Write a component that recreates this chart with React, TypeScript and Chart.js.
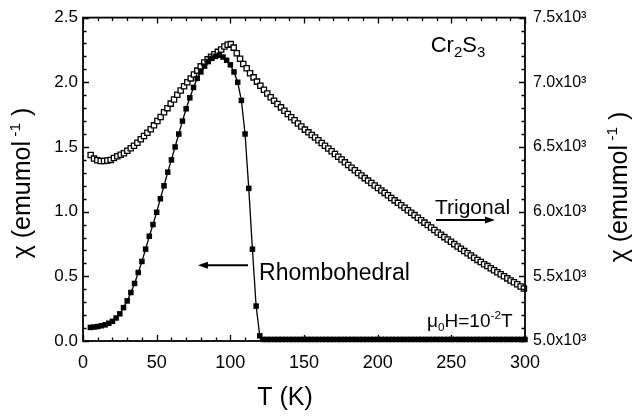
import React, { useEffect, useRef } from "react";
import { Chart, registerables } from "chart.js";
Chart.register(...registerables);

const FONT = "'Liberation Sans', Arial, Helvetica, sans-serif";

// Rhombohedral (filled squares, left axis, emu/mol)
const tRhombo = [
  5, 7.5, 10, 12.5, 15, 17.5, 20, 22.5, 25, 27.5, 30, 32.5, 35, 37.5, 40, 42.5, 45, 47.5, 50, 52.5,
  55, 57.5, 60, 62.5, 65, 67.5, 70, 72.5, 75, 77.5, 80, 82.5, 85, 87.5, 90, 92.5, 95, 97.5, 100, 102.5,
  105, 107.5, 110, 112.5, 115, 117.5, 120,
  122.5, 125, 127.5, 130, 132.5, 135, 137.5, 140, 142.5, 145, 147.5, 150,
  152.5, 155, 157.5, 160, 162.5, 165, 167.5, 170, 172.5, 175, 177.5, 180,
  182.5, 185, 187.5, 190, 192.5, 195, 197.5, 200, 202.5, 205, 207.5, 210,
  212.5, 215, 217.5, 220, 222.5, 225, 227.5, 230, 232.5, 235, 237.5, 240,
  242.5, 245, 247.5, 250, 252.5, 255, 257.5, 260, 262.5, 265, 267.5, 270,
  272.5, 275, 277.5, 280, 282.5, 285, 287.5, 290, 292.5, 295, 297.5, 300,
];
const chiRhombo = [
  0.105, 0.108, 0.112, 0.118, 0.125, 0.137, 0.152, 0.178, 0.21, 0.258, 0.31, 0.375, 0.445, 0.53, 0.615, 0.71, 0.81, 0.9, 0.995, 1.1,
  1.2, 1.305, 1.4, 1.5, 1.6, 1.7, 1.795, 1.88, 1.96, 2.03, 2.08, 2.125, 2.16, 2.185, 2.2, 2.21, 2.195, 2.17, 2.135, 2.08,
  2.0, 1.86, 1.6, 1.18, 0.71, 0.27, 0.04,
  0.012, 0.012, 0.012, 0.012, 0.012, 0.012, 0.012, 0.012, 0.012, 0.012, 0.012, 0.012,
  0.012, 0.012, 0.012, 0.012, 0.012, 0.012, 0.012, 0.012, 0.012, 0.012, 0.012, 0.012,
  0.012, 0.012, 0.012, 0.012, 0.012, 0.012, 0.012, 0.012, 0.012, 0.012, 0.012, 0.012,
  0.012, 0.012, 0.012, 0.012, 0.012, 0.012, 0.012, 0.012, 0.012, 0.012, 0.012, 0.012,
  0.012, 0.012, 0.012, 0.012, 0.012, 0.012, 0.012, 0.012, 0.012, 0.012, 0.012, 0.012,
  0.012, 0.012, 0.012, 0.012, 0.012, 0.012, 0.012, 0.012, 0.012, 0.012, 0.012, 0.012,
];

// Trigonal (open squares, right axis, x10^3 emu/mol)
const tTrig = [
  5.2, 7.5, 9.7, 12.0, 14.3, 16.5, 18.8, 21.0, 23.3, 25.6,
  27.8, 30.1, 32.4, 34.6, 36.9, 39.2, 41.4, 43.7, 46.0, 48.2,
  50.5, 52.7, 55.0, 57.3, 59.5, 61.8, 64.0, 66.3, 68.6, 70.8,
  73.1, 75.3, 77.6, 79.9, 82.3, 84.6, 86.9, 89.2, 91.5, 93.8,
  96.0, 98.2, 100.3, 102.3, 104.4, 106.6, 108.8, 111.1, 113.4, 115.8,
  118.1, 120.4, 122.8, 125.1, 127.4, 129.7, 132.0, 134.4, 136.7, 139.0,
  141.3, 143.6, 145.9, 148.2, 150.6,
  153, 155.25, 157.5, 159.75, 162, 164.25, 166.5, 168.75, 171, 173.25, 175.5, 177.75,
  180, 182.25, 184.5, 186.75, 189, 191.25, 193.5, 195.75, 198, 200.25, 202.5, 204.75,
  207, 209.25, 211.5, 213.75, 216, 218.25, 220.5, 222.75, 225, 227.25, 229.5, 231.75,
  234, 236.25, 238.5, 240.75, 243, 245.25, 247.5, 249.75, 252, 254.25, 256.5, 258.75,
  261, 263.25, 265.5, 267.75, 270, 272.25, 274.5, 276.75, 279, 281.25, 283.5, 285.75,
  288, 290.25, 292.5, 294.75, 297, 299.25,
];
const chiTrig = [
  6.438, 6.410, 6.397, 6.392, 6.392, 6.395, 6.400, 6.415, 6.428, 6.440,
  6.452, 6.470, 6.490, 6.510, 6.533, 6.560, 6.585, 6.610, 6.637, 6.667,
  6.700, 6.732, 6.768, 6.800, 6.835, 6.867, 6.903, 6.936, 6.970, 7.000,
  7.030, 7.060, 7.090, 7.123, 7.153, 7.177, 7.198, 7.216, 7.235, 7.254,
  7.276, 7.290, 7.295, 7.268, 7.225, 7.182, 7.142, 7.108, 7.070, 7.038,
  7.005, 6.973, 6.942, 6.913, 6.884, 6.858, 6.832, 6.806, 6.780, 6.755,
  6.730, 6.706, 6.682, 6.658, 6.634,
  6.613, 6.593, 6.573, 6.552, 6.531, 6.510, 6.488, 6.467, 6.446, 6.424, 6.403, 6.381,
  6.360, 6.340, 6.320, 6.299, 6.279, 6.259, 6.240, 6.221, 6.202, 6.183, 6.164, 6.145,
  6.126, 6.106, 6.087, 6.068, 6.049, 6.030, 6.011, 5.992, 5.973, 5.953, 5.934, 5.915,
  5.896, 5.877, 5.858, 5.839, 5.821, 5.803, 5.785, 5.767, 5.749, 5.731, 5.713, 5.695,
  5.678, 5.661, 5.644, 5.627, 5.610, 5.594, 5.579, 5.563, 5.547, 5.531, 5.516, 5.500,
  5.484, 5.468, 5.454, 5.439, 5.421, 5.406,
];

const xTickLabels = ["0", "50", "100", "150", "200", "250", "300"];
const yTickLabels = ["0.0", "0.5", "1.0", "1.5", "2.0", "2.5"];
const y2TickLabels = ["5.0x10³", "5.5x10³", "6.0x10³", "6.5x10³", "7.0x10³", "7.5x10³"];

type Seg = [string, number]; // 0 normal, 1 sup, -1 sub

function drawRich(ctx: CanvasRenderingContext2D, x: number, y: number, segs: Seg[], size: number, align: "left" | "center" = "left", ratio = 0.62) {
  const small = size * ratio;
  let total = 0;
  const widths: number[] = [];
  for (const s of segs) {
    ctx.font = `${s[1] ? small : size}px ${FONT}`;
    const w = ctx.measureText(s[0]).width;
    widths.push(w);
    total += w;
  }
  let cx = align === "center" ? x - total / 2 : x;
  ctx.textAlign = "left";
  ctx.textBaseline = "alphabetic";
  segs.forEach((s, i) => {
    ctx.font = `${s[1] ? small : size}px ${FONT}`;
    const dy = s[1] === 1 ? -size * 0.42 : s[1] === -1 ? size * 0.24 : 0;
    ctx.fillText(s[0], cx, y + dy);
    cx += widths[i];
  });
}

function arrow(ctx: CanvasRenderingContext2D, x1: number, y: number, x2: number) {
  const dir = Math.sign(x2 - x1);
  const hl = 10, hw = 3.5;
  ctx.lineWidth = 2;
  ctx.beginPath();
  ctx.moveTo(x1, y);
  ctx.lineTo(x2 - dir * hl * 0.6, y);
  ctx.stroke();
  ctx.beginPath();
  ctx.moveTo(x2, y);
  ctx.lineTo(x2 - dir * hl, y - hw);
  ctx.lineTo(x2 - dir * hl, y + hw);
  ctx.closePath();
  ctx.fill();
}

const decor = {
  id: "decor",
  afterDraw(chart: any) {
    const { ctx, chartArea: a, scales } = chart;
    const sx = scales.x, sy = scales.y, sy2 = scales.y2;
    ctx.save();
    ctx.strokeStyle = "#000";
    ctx.fillStyle = "#000";
    ctx.lineWidth = 1.8;
    ctx.strokeRect(a.left, a.top, a.right - a.left, a.bottom - a.top);
    ctx.lineWidth = 1.3;
    ctx.beginPath();
    for (let i = 0; i <= 30; i++) {
      const px = Math.round(sx.getPixelForValue(i * 10)) + 0.5;
      const L = i % 5 === 0 ? 6 : 3.5;
      ctx.moveTo(px, a.bottom);
      ctx.lineTo(px, a.bottom - L);
      ctx.moveTo(px, a.top);
      ctx.lineTo(px, a.top + L);
    }
    for (let i = 0; i <= 25; i++) {
      const L = i % 5 === 0 ? 6 : 3.5;
      const py = Math.round(sy.getPixelForValue(i / 10)) + 0.5;
      ctx.moveTo(a.left, py);
      ctx.lineTo(a.left + L, py);
      const py2 = Math.round(sy2.getPixelForValue(5 + i / 10)) + 0.5;
      ctx.moveTo(a.right, py2);
      ctx.lineTo(a.right - L, py2);
    }
    ctx.stroke();

    const X = (t: number) => sx.getPixelForValue(t);
    const Y = (v: number) => sy.getPixelForValue(v);
    drawRich(ctx, X(236), Y(2.235), [["Cr", 0], ["2", -1], ["S", 0], ["3", -1]], 22, "left", 0.68);
    drawRich(ctx, X(238.9), Y(0.985), [["Trigonal", 0]], 21);
    arrow(ctx, X(239.6), Y(0.936), X(279.6));
    drawRich(ctx, X(119.5), Y(0.469), [["Rhombohedral", 0]], 23);
    arrow(ctx, X(112), Y(0.585), X(78));
    drawRich(ctx, X(233.5), Y(0.11), [["μ", 0], ["0", -1], ["H=10", 0], ["-2", 1], ["T", 0]], 19);

    drawRich(ctx, 285, 405, [["T (K)", 0]], 25, "center");
    const ytitle: Seg[] = [["χ (emumol", 0], [" -1", 1], [" )", 0]];
    ctx.save();
    ctx.translate(30, 183);
    ctx.rotate(-Math.PI / 2);
    drawRich(ctx, 0, 0, ytitle, 25, "center");
    ctx.restore();
    ctx.save();
    ctx.translate(627, 187);
    ctx.rotate(-Math.PI / 2);
    drawRich(ctx, 0, 0, ytitle, 25, "center");
    ctx.restore();
    ctx.restore();
  },
};

export default function App() {
  const ref = useRef<HTMLCanvasElement>(null);
  useEffect(() => {
    document.body.style.margin = "0";
    const rhombo = tRhombo.map((t, i) => ({ x: t, y: chiRhombo[i] }));
    const trig = tTrig.map((t, i) => ({ x: t, y: chiTrig[i] }));
    const tickFont = { size: 17, family: FONT };
    const chart = new Chart(ref.current!, {
      type: "scatter",
      data: {
        datasets: [
          {
            label: "Rhombohedral",
            data: rhombo,
            yAxisID: "y",
            showLine: true,
            borderColor: "#000",
            borderWidth: 1.3,
            backgroundColor: "#000",
            pointStyle: "rect",
            pointRadius: 3.9,
            pointBorderWidth: 0,
            pointBackgroundColor: "#000",
            clip: false as any,
          },
          {
            label: "Trigonal",
            data: trig,
            yAxisID: "y2",
            showLine: false,
            pointStyle: "rect",
            pointRadius: 3.7,
            pointBorderWidth: 1.3,
            pointBorderColor: "#000",
            pointBackgroundColor: "#fff",
            clip: false as any,
          },
        ],
      },
      options: {
        animation: false,
        responsive: true,
        maintainAspectRatio: false,
        layout: { padding: { top: 16, left: 0, right: 0, bottom: 0 } },
        plugins: { legend: { display: false }, tooltip: { enabled: false } },
        scales: {
          x: {
            type: "linear",
            position: "bottom",
            min: 0,
            max: 300,
            afterFit: (s: any) => { s.height = 78; },
            grid: { display: false, drawTicks: false },
            border: { display: false },
            ticks: {
              stepSize: 50,
              padding: 11,
              autoSkip: false,
              maxRotation: 0,
              color: "#000",
              font: { size: 18, family: FONT },
              callback: (v: any) => xTickLabels[Math.round(Number(v) / 50)],
            },
          },
          y: {
            type: "linear",
            position: "left",
            min: 0,
            max: 2.5,
            afterFit: (s: any) => { s.width = 83; },
            grid: { display: false, drawTicks: false },
            border: { display: false },
            ticks: {
              stepSize: 0.5,
              padding: 5,
              color: "#000",
              font: tickFont,
              callback: (v: any) => yTickLabels[Math.round(Number(v) / 0.5)],
            },
          },
          y2: {
            type: "linear",
            position: "right",
            min: 5,
            max: 7.5,
            afterFit: (s: any) => { s.width = 110; },
            grid: { display: false, drawTicks: false },
            border: { display: false },
            ticks: {
              stepSize: 0.5,
              padding: 8,
              color: "#000",
              font: { size: 16, family: FONT },
              callback: (v: any) => y2TickLabels[Math.round((Number(v) - 5) / 0.5)],
            },
          },
        },
      },
      plugins: [decor],
    });
    return () => chart.destroy();
  }, []);
  return (
    <div style={{ position: "relative", width: 635, height: 419 }}>
      <canvas ref={ref} />
    </div>
  );
}
